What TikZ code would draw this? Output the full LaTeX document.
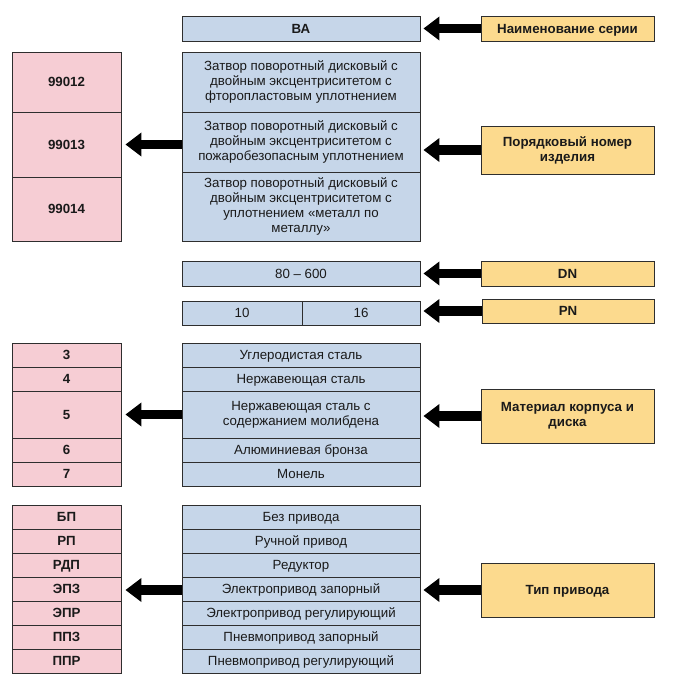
\documentclass[tikz,border=0pt]{standalone}
\usepackage{fontspec}
\setmainfont{Liberation Sans}
\usetikzlibrary{arrows.meta}
\definecolor{cblue}{HTML}{C6D6E9}
\definecolor{cpink}{HTML}{F6CDD4}
\definecolor{cyel}{HTML}{FCDA8E}
\definecolor{cedge}{HTML}{2E2E2E}
\definecolor{ctext}{HTML}{1A1A1A}
\tikzset{
  x=1pt, y=-1pt,
  cellbase/.style={draw=cedge, line width=0.9pt, inner sep=0pt, text=ctext,
    font=\fontsize{13.3}{15.2}\selectfont},
  one/.style={text height=9.6pt, text depth=0pt},
  multi/.style={align=center},
  bluecell/.style={cellbase, fill=cblue, one},
  bluemulti/.style={cellbase, fill=cblue, multi},
  pinkcell/.style={cellbase, fill=cpink, one, font=\fontsize{13.3}{15.2}\selectfont\bfseries},
  yelcell/.style={cellbase, fill=cyel, one, font=\fontsize{13.3}{15.2}\selectfont\bfseries},
  yelmulti/.style={cellbase, fill=cyel, multi, font=\fontsize{13.3}{15.2}\selectfont\bfseries},
  bw/.style={minimum width=238pt},
  pw/.style={minimum width=109pt},
  yw/.style={minimum width=173pt},
  bigarrow/.style={draw=black, line width=9.5pt,
    -{Triangle[length=16pt,width=23pt]}},
}
\begin{document}
\begin{tikzpicture}
\useasboundingbox (0,0) rectangle (675,686);
% ---- series ----
\node[bluecell,bw,minimum height=25pt,font=\fontsize{13.3}{15.2}\selectfont\bfseries] (ba) at (301,28.5) {ВА};
\node[yelcell,yw,minimum height=25pt] (yser) at (567.5,28.5) {Наименование серии};

\node[bluemulti,bw,minimum height=60pt] (s1) at (301,82) {Затвор поворотный дисковый с\\двойным эксцентриситетом с\\фторопластовым уплотнением};
\node[bluemulti,bw,minimum height=60pt] (s2) at (301,142) {Затвор поворотный дисковый с\\двойным эксцентриситетом с\\пожаробезопасным уплотнением};
\node[bluemulti,bw,minimum height=69pt] (s3) at (301,206.5) {Затвор поворотный дисковый с\\двойным эксцентриситетом с\\уплотнением «металл по\\металлу»};

\node[pinkcell,pw,minimum height=60pt] (p1) at (66.5,82) {99012};
\node[pinkcell,pw,minimum height=65pt] (p2) at (66.5,144.5) {99013};
\node[pinkcell,pw,minimum height=64pt] (p3) at (66.5,209) {99014};

\node[yelmulti,yw,minimum height=48pt] (ynum) at (567.5,150) {Порядковый номер\\изделия};

% ---- DN / PN ----
\node[bluecell,bw,minimum height=25pt] (dn) at (301,273.5) {80 – 600};
\node[yelcell,yw,minimum height=25pt] (ydn) at (567.5,273.5) {DN};

\node[bluecell,minimum width=120pt,minimum height=24pt] (pn1) at (242,313) {10};
\node[bluecell,minimum width=118pt,minimum height=24pt] (pn2) at (361,313) {16};
\node[yelcell,minimum width=172pt,minimum height=24pt] (ypn) at (568,311) {PN};

% ---- material ----
\node[bluecell,bw,minimum height=24pt] (m1) at (301,355) {Углеродистая сталь};
\node[bluecell,bw,minimum height=24pt] (m2) at (301,379) {Нержавеющая сталь};
\node[bluemulti,bw,minimum height=47pt] (m3) at (301,414.5) {Нержавеющая сталь с\\содержанием молибдена};
\node[bluecell,bw,minimum height=24pt] (m4) at (301,450) {Алюминиевая бронза};
\node[bluecell,bw,minimum height=24pt] (m5) at (301,474) {Монель};

\node[pinkcell,pw,minimum height=24pt] (pm1) at (66.5,355) {3};
\node[pinkcell,pw,minimum height=24pt] (pm2) at (66.5,379) {4};
\node[pinkcell,pw,minimum height=47pt] (pm3) at (66.5,414.5) {5};
\node[pinkcell,pw,minimum height=24pt] (pm4) at (66.5,450) {6};
\node[pinkcell,pw,minimum height=24pt] (pm5) at (66.5,474) {7};

\node[yelmulti,yw,minimum height=54pt] (ymat) at (567.5,416) {Материал корпуса и\\диска};

% ---- drive ----
\node[bluecell,bw,minimum height=24pt] (d1) at (301,517) {Без привода};
\node[bluecell,bw,minimum height=24pt] (d2) at (301,541) {Ручной привод};
\node[bluecell,bw,minimum height=24pt] (d3) at (301,565) {Редуктор};
\node[bluecell,bw,minimum height=24pt] (d4) at (301,589) {Электропривод запорный};
\node[bluecell,bw,minimum height=24pt] (d5) at (301,613) {Электропривод регулирующий};
\node[bluecell,bw,minimum height=24pt] (d6) at (301,637) {Пневмопривод запорный};
\node[bluecell,bw,minimum height=24pt] (d7) at (301,661) {Пневмопривод регулирующий};

\node[pinkcell,pw,minimum height=24pt] (pd1) at (66.5,517) {БП};
\node[pinkcell,pw,minimum height=24pt] (pd2) at (66.5,541) {РП};
\node[pinkcell,pw,minimum height=24pt] (pd3) at (66.5,565) {РДП};
\node[pinkcell,pw,minimum height=24pt] (pd4) at (66.5,589) {ЭПЗ};
\node[pinkcell,pw,minimum height=24pt] (pd5) at (66.5,613) {ЭПР};
\node[pinkcell,pw,minimum height=24pt] (pd6) at (66.5,637) {ППЗ};
\node[pinkcell,pw,minimum height=24pt] (pd7) at (66.5,661) {ППР};

\node[yelcell,yw,minimum height=54pt] (ydrv) at (567.5,590) {Тип привода};

% ---- arrows ----
\draw[bigarrow,shorten >=3pt] (yser.west) -- (yser.west -| ba.east);
\draw[bigarrow,shorten >=3pt] (ynum.west) -- (ynum.west -| s2.east);
\draw[bigarrow,shorten >=3pt] (ydn.west) -- (ydn.west -| dn.east);
\draw[bigarrow,shorten >=3pt] (ypn.west) -- (ypn.west -| pn2.east);
\draw[bigarrow,shorten >=3pt] (ymat.west) -- (ymat.west -| m3.east);
\draw[bigarrow,shorten >=3pt] (ydrv.west) -- (ydrv.west -| d4.east);

\draw[bigarrow,shorten >=4pt] (p2.east -| s2.west) -- (p2.east);
\draw[bigarrow,shorten >=4pt] (pm3.east -| m3.west) -- (pm3.east);
\draw[bigarrow,shorten >=4pt] (ydrv.west -| d4.west) -- (ydrv.west -| pd4.east);
\end{tikzpicture}
\end{document}
